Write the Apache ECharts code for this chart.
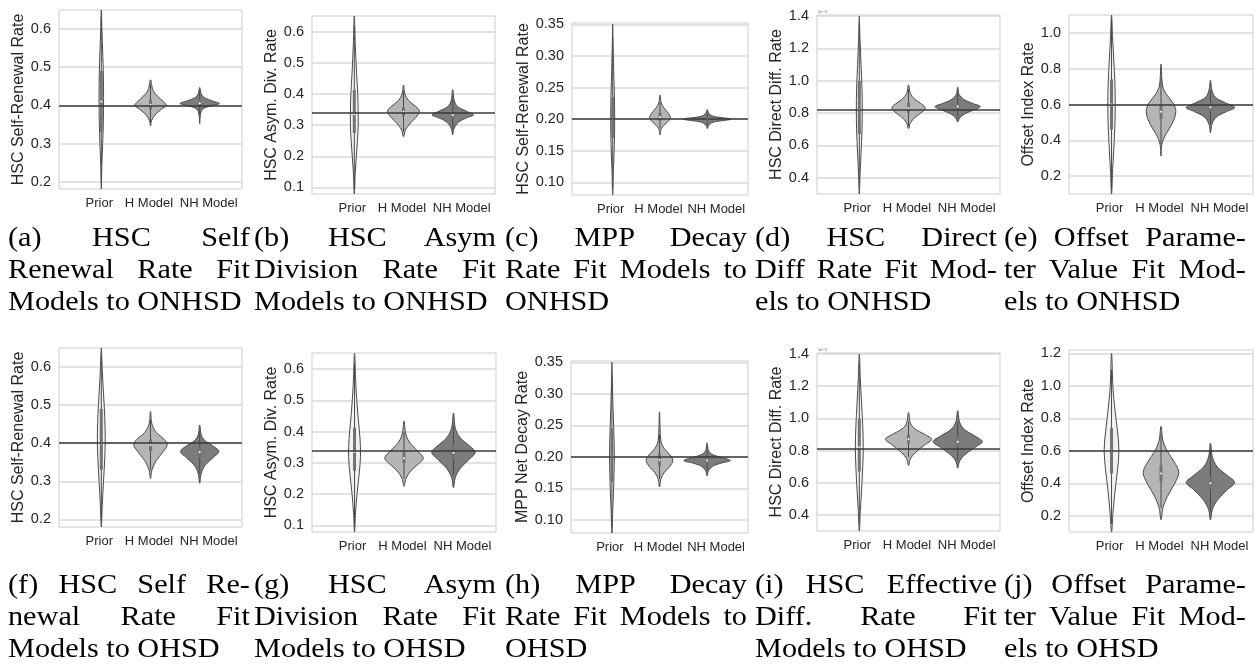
<!DOCTYPE html>
<html lang="en">
<head>
<meta charset="UTF-8">
<script src="https://cdn.jsdelivr.net/npm/echarts@6/dist/echarts.min.js"></script>
<title>Violin fits</title>
<style>
    body { margin: 0; background: #fff; }
    #main { position: absolute; left: 0; top: 0; width: 1259px; height: 671px; }
    .cap { position: absolute; width: 216px; font-family: 'Liberation Serif', 'DejaVu Serif', serif;
           font-size: 27px; line-height: 32px; color: #000; transform: scaleX(1.12); transform-origin: 0 0; }
    .cap div { text-align: justify; text-align-last: justify; white-space: nowrap; }
    .cap div.last { text-align-last: left; }
</style>
</head>
<body>
<div id="main"></div>
<script type="text/javascript">
    var categories = ['Prior', 'H Model', 'NH Model'];
    var axisNames = ['HSC Self-Renewal Rate', 'HSC Asym. Div. Rate', 'HSC Self-Renewal Rate', 'HSC Direct Diff. Rate',
        'Offset Index Rate', 'HSC Self-Renewal Rate', 'HSC Asym. Div. Rate', 'MPP Net Decay Rate',
        'HSC Direct Diff. Rate', 'Offset Index Rate'];
    // true parameter value (horizontal line)
    var refValues = [0.4, 0.336, 0.2, 0.82, 0.6, 0.4, 0.336, 0.2, 0.815, 0.6];

    var yTicksSelf = [0.2, 0.3, 0.4, 0.5, 0.6];
    var yTicksAsym = [0.1, 0.2, 0.3, 0.4, 0.5, 0.6];
    var yTicksDecay = [0.10, 0.15, 0.20, 0.25, 0.30, 0.35];
    var yTicksDiff = [0.4, 0.6, 0.8, 1.0, 1.2, 1.4];
    var yTicksOffsetTop = [0.2, 0.4, 0.6, 0.8, 1.0];
    var yTicksOffsetBottom = [0.2, 0.4, 0.6, 0.8, 1.0, 1.2];

    // violin outlines: [value, half width] from bottom tip to top tip
    var violinsA = [
        [[0.181, 0], [0.24, 0.01], [0.3, 0.028], [0.36, 0.042], [0.42, 0.046], [0.48, 0.042], [0.54, 0.028], [0.6, 0.012], [0.65, 0]],
        [[0.346, 0], [0.36, 0.02], [0.375, 0.09], [0.39, 0.22], [0.4, 0.325], [0.41, 0.26], [0.425, 0.14], [0.44, 0.05], [0.467, 0]],
        [[0.352, 0], [0.38, 0.02], [0.392, 0.08], [0.4, 0.26], [0.405, 0.4], [0.412, 0.25], [0.42, 0.1], [0.43, 0.03], [0.447, 0]]
    ];
    var violinsB = [
        [[0.079, 0], [0.15, 0.02], [0.22, 0.05], [0.28, 0.075], [0.33, 0.08], [0.4, 0.07], [0.47, 0.045], [0.56, 0.02], [0.651, 0]],
        [[0.263, 0], [0.285, 0.04], [0.305, 0.13], [0.325, 0.25], [0.345, 0.325], [0.36, 0.25], [0.38, 0.1], [0.4, 0.03], [0.429, 0]],
        [[0.269, 0], [0.29, 0.03], [0.31, 0.12], [0.325, 0.3], [0.333, 0.42], [0.345, 0.28], [0.36, 0.1], [0.38, 0.03], [0.415, 0]]
    ];
    var violinsC = [
        [[0.08, 0], [0.12, 0.015], [0.16, 0.035], [0.2, 0.042], [0.24, 0.035], [0.28, 0.02], [0.32, 0.008], [0.35, 0]],
        [[0.175, 0], [0.185, 0.03], [0.192, 0.11], [0.198, 0.19], [0.203, 0.22], [0.21, 0.17], [0.218, 0.08], [0.226, 0.025], [0.238, 0]],
        [[0.185, 0], [0.19, 0.03], [0.195, 0.12], [0.2, 0.5], [0.204, 0.15], [0.208, 0.04], [0.215, 0]]
    ];
    var violinsD = [
        [[0.3, 0], [0.42, 0.015], [0.55, 0.035], [0.7, 0.055], [0.82, 0.06], [0.95, 0.055], [1.1, 0.035], [1.25, 0.015], [1.4, 0]],
        [[0.704, 0], [0.74, 0.04], [0.775, 0.14], [0.805, 0.27], [0.83, 0.34], [0.855, 0.27], [0.885, 0.13], [0.92, 0.04], [0.974, 0]],
        [[0.745, 0], [0.77, 0.04], [0.795, 0.14], [0.82, 0.33], [0.84, 0.46], [0.86, 0.3], [0.885, 0.12], [0.915, 0.03], [0.96, 0]]
    ];
    var violinsE = [
        [[0.1, 0], [0.22, 0.02], [0.35, 0.045], [0.48, 0.068], [0.6, 0.075], [0.72, 0.068], [0.85, 0.045], [0.98, 0.02], [1.1, 0]],
        [[0.312, 0], [0.38, 0.02], [0.43, 0.09], [0.49, 0.22], [0.56, 0.3], [0.61, 0.24], [0.66, 0.1], [0.71, 0.03], [0.825, 0]],
        [[0.442, 0], [0.49, 0.03], [0.53, 0.12], [0.56, 0.32], [0.583, 0.49], [0.61, 0.3], [0.64, 0.1], [0.68, 0.03], [0.736, 0]]
    ];
    var violinsF = [
        [[0.18, 0], [0.24, 0.02], [0.3, 0.045], [0.36, 0.07], [0.41, 0.08], [0.47, 0.07], [0.53, 0.045], [0.59, 0.02], [0.65, 0]],
        [[0.307, 0], [0.33, 0.03], [0.355, 0.12], [0.378, 0.26], [0.396, 0.34], [0.41, 0.28], [0.428, 0.12], [0.45, 0.03], [0.483, 0]],
        [[0.295, 0], [0.32, 0.03], [0.342, 0.11], [0.362, 0.27], [0.378, 0.39], [0.392, 0.28], [0.405, 0.12], [0.42, 0.035], [0.448, 0]]
    ];
    var violinsG = [
        [[0.079, 0], [0.14, 0.02], [0.2, 0.05], [0.26, 0.09], [0.32, 0.12], [0.38, 0.11], [0.45, 0.07], [0.54, 0.03], [0.651, 0]],
        [[0.225, 0], [0.25, 0.04], [0.275, 0.14], [0.298, 0.3], [0.315, 0.39], [0.335, 0.3], [0.36, 0.14], [0.39, 0.04], [0.434, 0]],
        [[0.221, 0], [0.255, 0.04], [0.285, 0.15], [0.312, 0.32], [0.334, 0.44], [0.355, 0.32], [0.38, 0.14], [0.41, 0.04], [0.46, 0]]
    ];
    var violinsH = [
        [[0.079, 0], [0.11, 0.015], [0.15, 0.035], [0.2, 0.05], [0.24, 0.04], [0.28, 0.022], [0.32, 0.008], [0.35, 0]],
        [[0.152, 0], [0.165, 0.03], [0.175, 0.1], [0.185, 0.22], [0.194, 0.28], [0.203, 0.22], [0.213, 0.1], [0.225, 0.03], [0.271, 0]],
        [[0.17, 0], [0.178, 0.03], [0.185, 0.12], [0.19, 0.3], [0.194, 0.49], [0.199, 0.3], [0.204, 0.1], [0.21, 0.03], [0.222, 0]]
    ];
    var violinsI = [
        [[0.3, 0], [0.42, 0.02], [0.55, 0.045], [0.7, 0.07], [0.82, 0.08], [0.95, 0.07], [1.1, 0.045], [1.25, 0.02], [1.4, 0]],
        [[0.707, 0], [0.75, 0.04], [0.79, 0.15], [0.835, 0.33], [0.87, 0.47], [0.9, 0.33], [0.935, 0.13], [0.97, 0.04], [1.037, 0]],
        [[0.69, 0], [0.735, 0.04], [0.775, 0.15], [0.82, 0.35], [0.855, 0.5], [0.89, 0.35], [0.93, 0.14], [0.975, 0.04], [1.047, 0]]
    ];
    var violinsJ = [
        [[0.1, 0], [0.22, 0.03], [0.35, 0.07], [0.48, 0.12], [0.6, 0.15], [0.72, 0.12], [0.85, 0.07], [0.98, 0.03], [1.2, 0]],
        [[0.175, 0], [0.25, 0.04], [0.32, 0.13], [0.4, 0.28], [0.466, 0.36], [0.53, 0.27], [0.6, 0.12], [0.66, 0.04], [0.75, 0]],
        [[0.175, 0], [0.24, 0.04], [0.3, 0.15], [0.36, 0.34], [0.405, 0.49], [0.45, 0.33], [0.5, 0.14], [0.56, 0.04], [0.647, 0]]
    ];

    // inner boxes: [whisker low, q1, median, q3, whisker high]
    var boxesA = [[0.2, 0.33, 0.41, 0.49, 0.63], [0.355, 0.39, 0.402, 0.415, 0.455], [0.37, 0.397, 0.406, 0.415, 0.44]];
    var boxesB = [[0.1, 0.275, 0.335, 0.413, 0.62], [0.28, 0.33, 0.343, 0.357, 0.41], [0.285, 0.322, 0.333, 0.345, 0.39]];
    var boxesC = [[0.09, 0.17, 0.2, 0.235, 0.33], [0.185, 0.197, 0.203, 0.21, 0.228], [0.19, 0.197, 0.2, 0.203, 0.21]];
    var boxesD = [[0.35, 0.67, 0.82, 1.0, 1.35], [0.72, 0.8, 0.83, 0.865, 0.95], [0.77, 0.82, 0.84, 0.86, 0.93]];
    var boxesE = [[0.12, 0.46, 0.6, 0.74, 1.08], [0.38, 0.52, 0.56, 0.6, 0.75], [0.49, 0.56, 0.585, 0.61, 0.68]];
    var boxesF = [[0.2, 0.33, 0.4, 0.49, 0.63], [0.33, 0.38, 0.395, 0.41, 0.46], [0.32, 0.362, 0.376, 0.39, 0.43]];
    var boxesG = [[0.1, 0.275, 0.335, 0.413, 0.62], [0.25, 0.3, 0.315, 0.335, 0.4], [0.26, 0.31, 0.333, 0.36, 0.42]];
    var boxesH = [[0.09, 0.16, 0.2, 0.245, 0.33], [0.165, 0.186, 0.195, 0.205, 0.235], [0.178, 0.189, 0.194, 0.199, 0.21]];
    var boxesI = [[0.35, 0.67, 0.82, 1.0, 1.35], [0.76, 0.845, 0.87, 0.9, 0.98], [0.74, 0.82, 0.855, 0.89, 0.98]];
    var boxesJ = [[0.15, 0.46, 0.6, 0.74, 1.1], [0.25, 0.41, 0.46, 0.51, 0.7], [0.22, 0.36, 0.4, 0.44, 0.6]];

    var captions = [
        ['(a) HSC Self', 'Renewal Rate Fit', 'Models to ONHSD'],
        ['(b) HSC Asym', 'Division Rate Fit', 'Models to ONHSD'],
        ['(c) MPP Decay', 'Rate Fit Models to', 'ONHSD'],
        ['(d) HSC Direct', 'Diff Rate Fit Mod-', 'els to ONHSD'],
        ['(e) Offset Parame-', 'ter Value Fit Mod-', 'els to ONHSD'],
        ['(f) HSC Self Re-', 'newal Rate Fit', 'Models to OHSD'],
        ['(g) HSC Asym', 'Division Rate Fit', 'Models to OHSD'],
        ['(h) MPP Decay', 'Rate Fit Models to', 'OHSD'],
        ['(i) HSC Effective', 'Diff. Rate Fit', 'Models to OHSD'],
        ['(j) Offset Parame-', 'ter Value Fit Mod-', 'els to OHSD']
    ];

    var violinSets = [violinsA, violinsB, violinsC, violinsD, violinsE, violinsF, violinsG, violinsH, violinsI, violinsJ];
    var boxSets = [boxesA, boxesB, boxesC, boxesD, boxesE, boxesF, boxesG, boxesH, boxesI, boxesJ];
    var yTickSets = [yTicksSelf, yTicksAsym, yTicksDecay, yTicksDiff, yTicksOffsetTop,
        yTicksSelf, yTicksAsym, yTicksDecay, yTicksDiff, yTicksOffsetBottom];
    var yTickDigits = [1, 1, 2, 1, 1, 1, 1, 2, 1, 1];

    // layout: plot boxes [left, top, width, height], y limits, name gaps
    var plotBoxes = [[59, 10, 183, 179], [312, 16, 183, 178], [572, 23, 176, 172], [817, 15, 183, 179], [1069, 15, 184, 179],
        [59, 348, 183, 179], [312, 353, 184, 179], [571, 361, 177, 172], [817, 353, 183, 178], [1069, 350, 184, 182]];
    var yLimits = [[0.181, 0.65], [0.079, 0.651], [0.08, 0.352], [0.3, 1.406], [0.1, 1.1],
        [0.18, 0.65], [0.079, 0.652], [0.079, 0.352], [0.3, 1.406], [0.1, 1.22]];
    var nameGaps = [31, 30, 36, 29, 30, 31, 30, 36, 29, 30];
    var captionLefts = [8, 254, 505, 755, 1004];
    var captionTops = [221, 568];

    var violinFills = ['#f1f1f1', '#b5b5b5', '#7c7c7c'];
    var edgeColor = '#4a4a4a';
    var textColor = '#262626';
    var sans = "'Liberation Sans', Arial, sans-serif";

    function violinRenderer(knotSets) {
        return function (params, api) {
            var j = params.dataIndex;
            var x = api.value(0);
            var knots = knotSets[j];
            var pts = knots.map(function (k) { return api.coord([x + k[1], k[0]]); });
            for (var m = knots.length - 2; m >= 1; m--) {
                pts.push(api.coord([x - knots[m][1], knots[m][0]]));
            }
            return {
                type: 'polygon',
                shape: { points: pts, smooth: 0.35 },
                style: { fill: violinFills[j], stroke: edgeColor, lineWidth: 1 }
            };
        };
    }

    function boxRenderer(params, api) {
        var x = api.value(0);
        var lo = api.coord([x, api.value(1)]);
        var q1 = api.coord([x, api.value(2)]);
        var md = api.coord([x, api.value(3)]);
        var q3 = api.coord([x, api.value(4)]);
        var hi = api.coord([x, api.value(5)]);
        return {
            type: 'group',
            children: [
                { type: 'line', shape: { x1: lo[0], y1: lo[1], x2: hi[0], y2: hi[1] }, style: { stroke: '#4a4a4a', lineWidth: 1 } },
                { type: 'line', shape: { x1: q1[0], y1: q1[1], x2: q3[0], y2: q3[1] }, style: { stroke: '#727272', lineWidth: 3 } },
                { type: 'circle', shape: { cx: md[0], cy: md[1], r: 1 }, style: { fill: '#ffffff' } }
            ]
        };
    }

    var chart = echarts.init(document.getElementById('main'));
    var option = { animation: false, backgroundColor: '#ffffff', grid: [], xAxis: [], yAxis: [], series: [], graphic: [] };

    plotBoxes.forEach(function (b, i) {
        option.grid.push({
            left: b[0], top: b[1], width: b[2], height: b[3],
            show: true, borderColor: '#cccccc', borderWidth: 1, containLabel: false
        });
        option.xAxis.push({
            type: 'value', gridIndex: i, min: -0.86, max: 2.86,
            axisLine: { show: false },
            axisTick: { show: false, customValues: [0, 1, 2] },
            splitLine: { show: false },
            axisLabel: {
                customValues: [0, 1, 2], margin: 8, fontSize: 13, color: textColor, fontFamily: sans,
                formatter: function (v) { var j = Math.round(v); return '{c' + j + '|' + categories[j] + '}'; },
                rich: {
                    c0: { padding: [0, 4, 0, 0] },
                    c1: { padding: [0, 3, 0, 0] },
                    c2: { padding: [0, 0, 0, 18] }
                }
            }
        });
        var digits = yTickDigits[i];
        option.yAxis.push({
            type: 'value', gridIndex: i, min: yLimits[i][0], max: yLimits[i][1],
            name: axisNames[i], nameLocation: 'middle', nameGap: nameGaps[i],
            nameTextStyle: { fontSize: 16, color: textColor, fontFamily: sans },
            axisLine: { show: false },
            axisTick: { show: false, customValues: yTickSets[i] },
            splitLine: { show: true, lineStyle: { color: '#d9d9d9', width: 1.5 } },
            axisLabel: {
                customValues: yTickSets[i], margin: 8, fontSize: 14.5, color: textColor, fontFamily: sans,
                formatter: function (v) { return v.toFixed(digits); }
            }
        });
        option.series.push({
            type: 'custom', xAxisIndex: i, yAxisIndex: i, z: 2,
            renderItem: violinRenderer(violinSets[i]),
            data: categories.map(function (c, j) { return [j]; })
        });
        option.series.push({
            type: 'custom', xAxisIndex: i, yAxisIndex: i, z: 3,
            renderItem: boxRenderer,
            data: boxSets[i].map(function (s, j) { return [j].concat(s); })
        });
        option.series.push({
            type: 'line', xAxisIndex: i, yAxisIndex: i, z: 4, data: [],
            markLine: {
                silent: true, symbol: 'none', label: { show: false },
                lineStyle: { color: '#3a3a3a', width: 1.5, type: 'solid' },
                data: [{ yAxis: refValues[i] }]
            }
        });
    });

    // axis offset text on the 1e-5 panels
    [3, 8].forEach(function (i) {
        option.graphic.push({
            type: 'text', left: plotBoxes[i][0] + 1, top: plotBoxes[i][1] - 5,
            style: { text: '1e\u22125', fontSize: 4, fill: '#555', fontFamily: sans }
        });
    });

    chart.setOption(option);

    // sub-figure captions
    captions.forEach(function (lines, i) {
        var div = document.createElement('div');
        div.className = 'cap';
        div.style.left = captionLefts[i % 5] + 'px';
        div.style.top = captionTops[Math.floor(i / 5)] + 'px';
        lines.forEach(function (t, k) {
            var line = document.createElement('div');
            line.textContent = t;
            if (k === lines.length - 1) line.className = 'last';
            div.appendChild(line);
        });
        document.body.appendChild(div);
    });
</script>
</body>
</html>
